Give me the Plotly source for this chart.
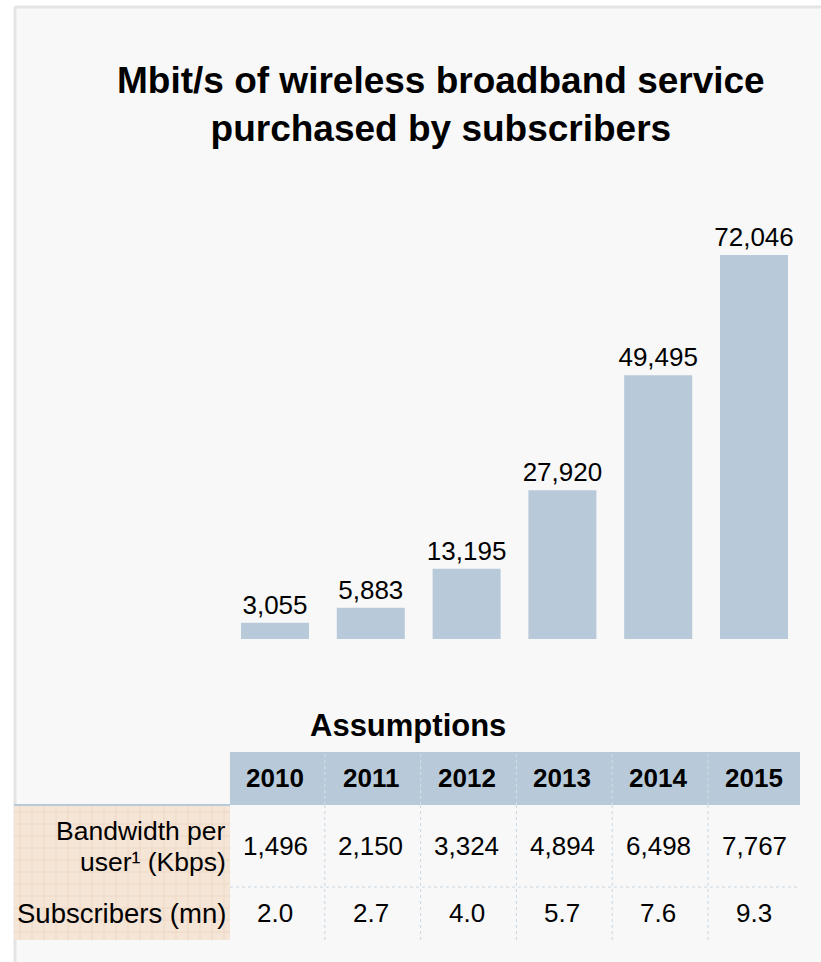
import plotly.graph_objects as go

# ---------------- data ----------------
years = [2010, 2011, 2012, 2013, 2014, 2015]
mbits = [3055, 5883, 13195, 27920, 49495, 72046]
bandwidth_kbps = ["1,496", "2,150", "3,324", "4,894", "6,498", "7,767"]
subscribers_mn = ["2.0", "2.7", "4.0", "5.7", "7.6", "9.3"]
title_text = "Mbit/s of wireless broadband service<br>purchased by subscribers"
table_title = "Assumptions"
row_labels = ["Bandwidth per", "user\u00b9 (Kbps)", "Subscribers (mn)"]

W, H = 821, 962
FONT = "Liberation Sans, Arial, Helvetica, sans-serif"
BAR_COLOR = "#b8cad9"
BEIGE = "#f5e5d6"
BEIGE_GRID = "#eed7c3"
PANEL = "#f8f8f8"


def py(p):  # pixel (from top) -> paper y
    return 1 - p / H


def px(p):  # pixel (from left) -> paper x
    return p / W


fig = go.Figure()
fig.add_trace(go.Bar(
    x=years, y=mbits, width=0.71,
    marker=dict(color=BAR_COLOR, line=dict(width=0)),
    texttemplate="%{y:,}", textposition="outside", constraintext="none",
    textfont=dict(size=26, color="#000000", family=FONT),
    cliponaxis=False, hoverinfo="skip",
))

shapes = []
# panel background
shapes.append(dict(type="rect", xref="paper", yref="paper", x0=px(15), x1=1.0,
                   y0=0, y1=py(7), fillcolor=PANEL, line=dict(width=0), layer="below"))
shapes.append(dict(type="line", xref="paper", yref="paper", x0=px(15), x1=px(15),
                   y0=0, y1=py(7), line=dict(color="#e4e4e4", width=3), layer="below"))
shapes.append(dict(type="line", xref="paper", yref="paper", x0=px(15), x1=1.0,
                   y0=py(7), y1=py(7), line=dict(color="#e4e4e4", width=3), layer="below"))

# table geometry (rows in pixels)
hdr_top, hdr_bot, row1_bot, row2_bot = 752, 805, 887, 940
col_left = years[0] - 0.47
col_right = years[-1] + 0.48

# header band
shapes.append(dict(type="rect", xref="x", yref="paper", x0=col_left, x1=col_right,
                   y0=py(hdr_bot), y1=py(hdr_top), fillcolor=BAR_COLOR,
                   line=dict(width=0), layer="below"))
# beige label area
shapes.append(dict(type="rect", xref="paper", yref="paper", x0=px(14), x1=px(230),
                   y0=py(row2_bot), y1=py(hdr_bot), fillcolor=BEIGE,
                   line=dict(width=0), layer="below"))
for gx in range(20, 230, 12):
    shapes.append(dict(type="line", xref="paper", yref="paper", x0=px(gx), x1=px(gx),
                       y0=py(row2_bot), y1=py(hdr_bot), line=dict(color=BEIGE_GRID, width=1),
                       layer="below"))
for gy in range(812, 940, 12):
    shapes.append(dict(type="line", xref="paper", yref="paper", x0=px(14), x1=px(230),
                       y0=py(gy), y1=py(gy), line=dict(color=BEIGE_GRID, width=1),
                       layer="below"))
shapes.append(dict(type="line", xref="paper", yref="paper", x0=px(14), x1=px(230),
                   y0=py(hdr_bot), y1=py(hdr_bot), line=dict(color=BAR_COLOR, width=2),
                   layer="below"))
# column separators
for yr in years[:-1]:
    shapes.append(dict(type="line", xref="x", yref="paper", x0=yr + 0.52, x1=yr + 0.52,
                       y0=py(hdr_bot), y1=py(hdr_top), line=dict(color="#d6e0e8", width=1, dash="dot")))
    shapes.append(dict(type="line", xref="x", yref="paper", x0=yr + 0.52, x1=yr + 0.52,
                       y0=py(row2_bot), y1=py(hdr_bot), line=dict(color="#c8d6e2", width=1, dash="dot")))
# row separator
shapes.append(dict(type="line", xref="x", yref="paper", x0=col_left, x1=col_right,
                   y0=py(row1_bot), y1=py(row1_bot), line=dict(color="#c8d6e2", width=1, dash="dot")))

annotations = []
annotations.append(dict(text="<b>" + title_text + "</b>", xref="paper", yref="paper",
                        x=px(441), y=py(104), xanchor="center", yanchor="middle",
                        showarrow=False, font=dict(size=37, color="#000000", family=FONT)))
annotations.append(dict(text="<b>" + table_title + "</b>", xref="paper", yref="paper",
                        x=px(408), y=py(725), xanchor="center", yanchor="middle",
                        showarrow=False, font=dict(size=31, color="#000000", family=FONT)))
for yr, bw, sub in zip(years, bandwidth_kbps, subscribers_mn):
    annotations.append(dict(text="<b>%d</b>" % yr, xref="x", yref="paper", x=yr, y=py(778),
                            showarrow=False, xanchor="center", yanchor="middle",
                            font=dict(size=26, color="#000000", family=FONT)))
    annotations.append(dict(text=bw, xref="x", yref="paper", x=yr, y=py(846),
                            showarrow=False, xanchor="center", yanchor="middle",
                            font=dict(size=26, color="#000000", family=FONT)))
    annotations.append(dict(text=sub, xref="x", yref="paper", x=yr, y=py(913),
                            showarrow=False, xanchor="center", yanchor="middle",
                            font=dict(size=26, color="#000000", family=FONT)))
for lbl, ypx, sz in zip(row_labels, [831, 862, 913], [26.5, 26.5, 27.5]):
    annotations.append(dict(text=lbl, xref="paper", yref="paper", x=px(228), y=py(ypx),
                            showarrow=False, xanchor="right", yanchor="middle", align="right",
                            font=dict(size=sz, color="#000000", family=FONT)))

# axis ranges: bar centre 2010 at 275px, pitch 95.8px; baseline at 639px, 0.00533 px/unit
x0r = years[0] - 275 / 95.8
x1r = x0r + W / 95.8
base_px = 639
ppu = 384 / 72046
fig.update_layout(
    width=W, height=H,
    margin=dict(l=0, r=0, t=0, b=0),
    paper_bgcolor="#ffffff", plot_bgcolor="rgba(0,0,0,0)",
    showlegend=False,
    xaxis=dict(range=[x0r, x1r], visible=False, fixedrange=True),
    yaxis=dict(domain=[1 - base_px / H, 1], range=[0, base_px / ppu], visible=False,
               fixedrange=True),
    shapes=shapes, annotations=annotations,
    font=dict(family=FONT),
)

fig.write_html("out.html")
